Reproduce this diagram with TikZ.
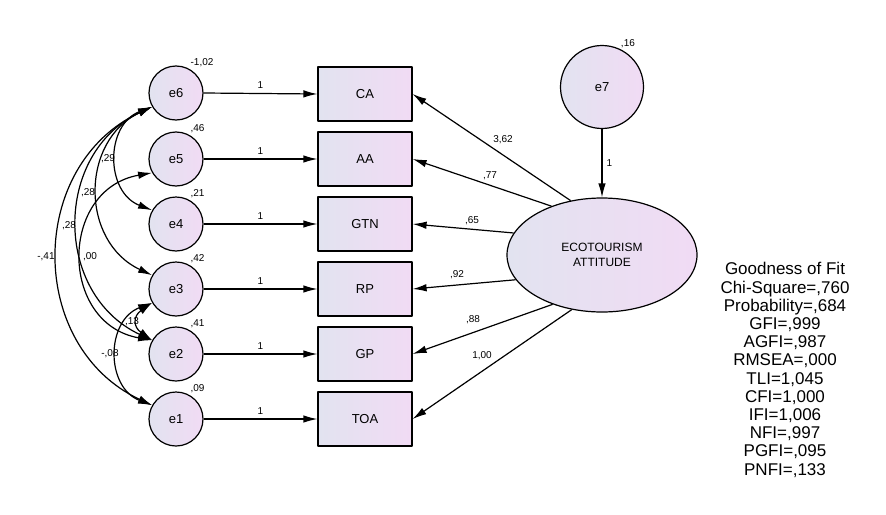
\documentclass[tikz,border=0pt]{standalone}
\usepackage{fontspec}
\setmainfont{Liberation Sans}
\usetikzlibrary{arrows.meta, shapes.geometric}
\definecolor{fillleft}{RGB}{226,227,240}
\definecolor{fillright}{RGB}{241,219,244}

\begin{document}
\begin{tikzpicture}[x=1pt, y=1pt, line join=round,
    errvar/.style={circle, draw, line width=1.2pt, minimum size=54pt, inner sep=0pt,
        left color=fillleft, right color=fillright, font=\fontsize{13}{15}\selectfont},
    obsvar/.style={rectangle, draw, line width=1.2pt, minimum width=94pt, minimum height=54pt,
        inner sep=0pt, left color=fillleft, right color=fillright, font=\fontsize{13}{15}\selectfont},
    latvar/.style={ellipse, draw, line width=1.2pt, minimum width=190pt, minimum height=114pt,
        inner sep=0pt, align=center, left color=fillleft, right color=fillright,
        font=\fontsize{12}{15}\selectfont},
    regline/.style={-{Latex[length=14pt,width=7.5pt]}, line width=1.2pt},
    cov/.style={{Latex[length=14pt,width=7.5pt]}-{Latex[length=14pt,width=7.5pt]},
        line width=1.2pt, out=205, in=155, looseness=1.2},
    lbl/.style={font=\fontsize{10}{12}\selectfont, inner sep=1pt}
]

    % Fix the page to the size of the reference
    \useasboundingbox (0,0) rectangle (886,-514);

    % ==========================================
    % ERROR TERMS AND OBSERVED VARIABLES
    % ==========================================

    \node[errvar, label={[lbl, label distance=1pt]62:{-1,02}}] (e6) at (176,-93) {e6};
    \node[errvar, label={[lbl, label distance=1pt]62:{,46}}] (e5) at (176,-159) {e5};
    \node[errvar, label={[lbl, label distance=1pt]62:{,21}}] (e4) at (176,-224) {e4};
    \node[errvar, label={[lbl, label distance=1pt]62:{,42}}] (e3) at (176,-289) {e3};
    \node[errvar, label={[lbl, label distance=1pt]62:{,41}}] (e2) at (176,-354) {e2};
    \node[errvar, label={[lbl, label distance=1pt]62:{,09}}] (e1) at (176,-419) {e1};

    \node[obsvar] (CA)  at (365,-94)  {CA};
    \node[obsvar] (AA)  at (365,-159) {AA};
    \node[obsvar] (GTN) at (365,-224) {GTN};
    \node[obsvar] (RP)  at (365,-289) {RP};
    \node[obsvar] (GP)  at (365,-354) {GP};
    \node[obsvar] (TOA) at (365,-419) {TOA};

    % Error paths, all fixed to 1
    \draw[regline] (e6.east) -- node[lbl, above=3pt] {1} (CA.west);
    \draw[regline] (e5.east) -- node[lbl, above=3pt] {1} (AA.west);
    \draw[regline] (e4.east) -- node[lbl, above=3pt] {1} (GTN.west);
    \draw[regline] (e3.east) -- node[lbl, above=3pt] {1} (RP.west);
    \draw[regline] (e2.east) -- node[lbl, above=3pt] {1} (GP.west);
    \draw[regline] (e1.east) -- node[lbl, above=3pt] {1} (TOA.west);

    % ==========================================
    % LATENT VARIABLE
    % ==========================================

    \node[errvar, minimum size=83pt, label={[lbl, label distance=0pt]65:{,16}}] (e7) at (602,-87) {e7};
    \node[latvar] (lat) at (602,-255) {ECOTOURISM\\ATTITUDE};

    \draw[regline] (e7.south) -- node[lbl, right=3pt] {1} (lat.north);

    % Loadings
    \draw[regline] (lat.120) -- (CA.east);
    \draw[regline] (lat.136) -- (AA.east);
    \draw[regline] (lat.166) -- (GTN.east);
    \draw[regline] (lat.196) -- (RP.east);
    \draw[regline] (lat.225) -- (GP.east);
    \draw[regline] (lat.241) -- (TOA.east);

    \node[lbl] at (503,-140) {3,62};
    \node[lbl] at (490,-176) {,77};
    \node[lbl] at (472,-221) {,65};
    \node[lbl] at (457,-275) {,92};
    \node[lbl] at (473,-320) {,88};
    \node[lbl] at (482,-356) {1,00};

    % ==========================================
    % COVARIANCES BETWEEN ERRORS
    % ==========================================

    \draw[cov, looseness=1.25, out=201, in=159] (e6.210) to (e4.150);
    \draw[cov, looseness=1.21] (e6.210) to (e3.150);
    \draw[cov] (e6.210) to (e2.150);
    \draw[cov, looseness=1.19] (e6.210) to (e1.150);
    \draw[cov, looseness=1.45, out=190, in=170] (e5.210) to (e2.150);
    \draw[cov, looseness=1.6, out=215, in=145] (e3.210) to (e2.150);
    \draw[cov, looseness=1.25, out=201, in=159] (e3.210) to (e1.150);

    \node[lbl] at (108,-159) {,29};
    \node[lbl] at (88,-193) {,28};
    \node[lbl] at (69,-226) {,28};
    \node[lbl] at (46,-257) {-,41};
    \node[lbl] at (90,-257) {,00};
    \node[lbl] at (132,-322) {,13};
    \node[lbl] at (110,-354) {-,08};

    % ==========================================
    % FIT INDICES
    % ==========================================

    \node[align=center, inner sep=0pt, font=\fontsize{17}{18.2}\selectfont] (fit) at (785,-370)
        {Goodness of Fit\\Chi-Square=,760\\Probability=,684\\GFI=,999\\AGFI=,987\\RMSEA=,000\\TLI=1,045\\CFI=1,000\\IFI=1,006\\NFI=,997\\PGFI=,095\\PNFI=,133};

\end{tikzpicture}
\end{document}
